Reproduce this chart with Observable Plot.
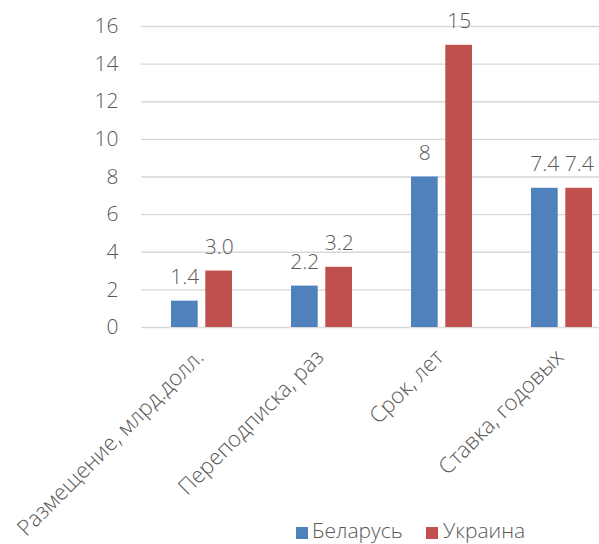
<!DOCTYPE html>
<html>
<head>
<meta charset="utf-8">
<script src="https://cdn.jsdelivr.net/npm/d3@7"></script>
<script src="https://cdn.jsdelivr.net/npm/@observablehq/plot@0.6"></script>
<style>
  html, body { margin: 0; padding: 0; background: #fff; }
  #wrap { position: relative; width: 599px; height: 544px; overflow: hidden; }
  #legend { position: absolute; top: 0; left: 0; pointer-events: none; }
</style>
</head>
<body>
<div id="wrap"></div>
<script>
const categories = ["Размещение, млрд.долл.", "Переподписка, раз", "Срок, лет", "Ставка, годовых"];
const belarus = [1.4, 2.2, 8, 7.4];
const ukraine = [3.0, 3.2, 15, 7.4];
const belarusLabels = ["1.4", "2.2", "8", "7.4"];
const ukraineLabels = ["3.0", "3.2", "15", "7.4"];
const seriesNames = ["Беларусь", "Украина"];
const yTicks = [0, 2, 4, 6, 8, 10, 12, 14, 16];
const colors = ["#4F81BD", "#C0504D"];

const bel = categories.map((c, i) => ({cat: c, value: belarus[i], label: belarusLabels[i]}));
const ukr = categories.map((c, i) => ({cat: c, value: ukraine[i], label: ukraineLabels[i]}));

const half = 34.3;
const textColor = "#595959";
const font = "'Open Sans', sans-serif";

const chart = Plot.plot({
  width: 599,
  height: 544,
  marginLeft: 141,
  marginRight: -23.8,
  marginTop: 26,
  marginBottom: 217,
  style: {fontFamily: font, fontSize: "21px", fontWeight: 300, color: textColor, overflow: "hidden", background: "#fff"},
  x: {domain: categories, paddingInner: 0.491, paddingOuter: 0.2455, label: null, axis: null},
  y: {domain: [0, 16], ticks: yTicks, tickSize: 0, tickPadding: 23, label: null},
  marks: [
    Plot.gridY(yTicks, {stroke: "#D9D9D9", strokeOpacity: 1, strokeWidth: 1.3}),
    Plot.axisX({tickRotate: -45, tickSize: 0, tickPadding: 26, dx: -2, fontSize: 22, label: null, fill: textColor}),
    Plot.barY(bel, {x: "cat", y: "value", fill: colors[0], insetRight: half}),
    Plot.barY(ukr, {x: "cat", y: "value", fill: colors[1], insetLeft: half}),
    Plot.text(bel, {x: "cat", y: "value", text: "label", dx: -17.15, dy: -17, lineAnchor: "bottom", fill: textColor}),
    Plot.text(ukr, {x: "cat", y: "value", text: "label", dx: 17.15, dy: -17, lineAnchor: "bottom", fill: textColor})
  ]
});
document.getElementById("wrap").appendChild(chart);

// legend below the plot area
const legendPos = [{sw: 296, tx: 312}, {sw: 426, tx: 443}];
const svg = d3.select("#wrap").append("svg")
  .attr("id", "legend").attr("width", 599).attr("height", 544);
seriesNames.forEach((name, i) => {
  svg.append("rect").attr("x", legendPos[i].sw).attr("y", 527).attr("width", 12).attr("height", 12).attr("fill", colors[i]);
  svg.append("text").attr("x", legendPos[i].tx).attr("y", 538)
    .attr("font-family", font).attr("font-size", 21).attr("font-weight", 300)
    .attr("fill", textColor).text(name);
});
</script>
</body>
</html>
